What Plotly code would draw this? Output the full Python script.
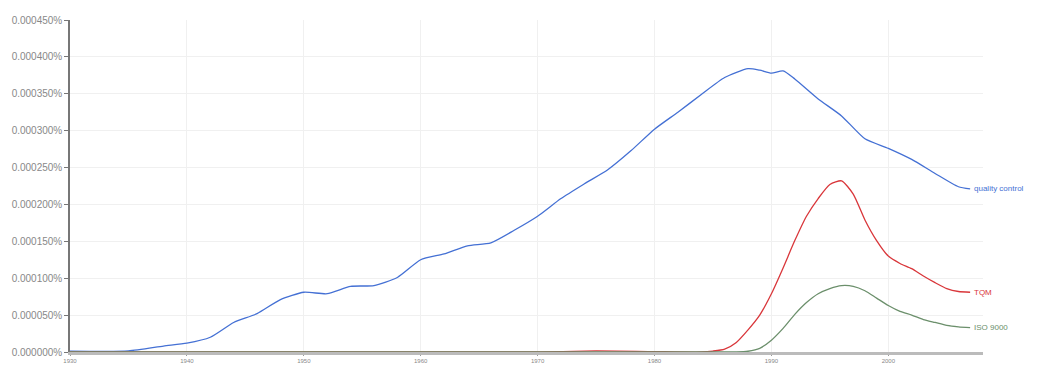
import plotly.graph_objects as go

# Years and values (percent of corpus)
qc_years = [1930, 1935, 1938, 1940, 1942, 1944, 1946, 1948, 1950, 1952, 1954, 1956, 1958,
            1960, 1962, 1964, 1966, 1968, 1970, 1972, 1974, 1976, 1978, 1980, 1982, 1984,
            1986, 1988, 1989, 1990, 1991, 1992, 1994, 1996, 1998, 2000, 2002, 2004, 2006, 2007]
qc_values = [0.0000013, 0.0000015, 0.0000081, 0.000012, 0.000020, 0.000040, 0.000052, 0.000071,
             0.000081, 0.000079, 0.000089, 0.000090, 0.000101, 0.000125, 0.000133, 0.000144,
             0.000148, 0.000165, 0.000184, 0.000208, 0.000228, 0.000247, 0.000273, 0.000302,
             0.000325, 0.000349, 0.000372, 0.000384, 0.000382, 0.000378, 0.000381, 0.000370,
             0.000343, 0.000320, 0.000289, 0.000276, 0.000261, 0.000242, 0.000224, 0.000221]

tqm_years = [1930, 1970, 1975, 1980, 1984, 1985, 1986, 1987, 1988, 1989, 1990, 1991, 1992,
             1993, 1994, 1995, 1996, 1997, 1998, 1999, 2000, 2001, 2002, 2003, 2004, 2005,
             2006, 2007]
tqm_values = [0.0, 0.0, 0.0000015, 0.0000005, 0.0, 0.0000013, 0.000004, 0.000013, 0.000030,
              0.000050, 0.000079, 0.000114, 0.000151, 0.000184, 0.000208, 0.000227, 0.000232,
              0.000214, 0.000179, 0.000151, 0.000130, 0.000120, 0.000113, 0.000103, 0.000094,
              0.000086, 0.000082, 0.000081]

iso_years = [1930, 1987, 1988, 1989, 1990, 1991, 1992, 1993, 1994, 1995, 1996, 1997, 1998,
             1999, 2000, 2001, 2002, 2003, 2004, 2005, 2006, 2007]
iso_values = [0.0, 0.0, 0.000001, 0.000005, 0.000016, 0.000032, 0.000051, 0.000067, 0.000079,
              0.000086, 0.000090, 0.000089, 0.000083, 0.000073, 0.000063, 0.000055, 0.000050,
              0.000044, 0.000040, 0.000036, 0.000034, 0.000033]

series_names = ["quality control", "TQM", "ISO 9000"]
series_colors = ["#4470d4", "#d9363a", "#6b8f6b"]

x_ticks = [1930, 1940, 1950, 1960, 1970, 1980, 1990, 2000]
y_ticks = [0.0, 0.00005, 0.0001, 0.00015, 0.0002, 0.00025, 0.0003, 0.00035, 0.0004, 0.00045]

fig = go.Figure()
all_series = [(qc_years, qc_values), (tqm_years, tqm_values), (iso_years, iso_values)]
for (xs, ys), name, col in zip(all_series, series_names, series_colors):
    fig.add_trace(go.Scatter(x=xs, y=ys, mode="lines", name=name,
                             line=dict(color=col, width=1.3, shape="spline", smoothing=0.6)))
    fig.add_annotation(x=xs[-1], y=ys[-1], text=name, showarrow=False, xanchor="left",
                       xshift=2, font=dict(size=8, color=col, family="Liberation Sans"))

# page body adds an 8px offset, so the figure is sized to fit the remaining window
fig.update_layout(
    width=1034, height=358,
    margin=dict(l=62, r=59, t=12, b=14),
    plot_bgcolor="white", paper_bgcolor="white",
    showlegend=False,
    font=dict(family="Liberation Sans", size=9, color="#888888"),
)
fig.update_xaxes(range=[1930, 2008.1], tickvals=x_ticks, ticktext=[str(t) for t in x_ticks],
                 automargin=False,
                 showgrid=True, gridcolor="#f0f0f0", gridwidth=1,
                 showline=True, linecolor="#bbbbbb", linewidth=3,
                 ticks="outside", ticklen=1, tickcolor="#999999",
                 tickfont=dict(size=6, color="#888888"), zeroline=False)
fig.update_yaxes(range=[0, 0.00045], tickvals=y_ticks,
                 ticktext=["%.6f%%" % v for v in y_ticks],
                 automargin=False,
                 showgrid=True, gridcolor="#f0f0f0", gridwidth=1,
                 showline=True, linecolor="#777777", linewidth=1.5,
                 ticks="outside", ticklen=4, tickcolor="#777777",
                 tickfont=dict(size=10, color="#888888"), zeroline=False)

fig.write_html("out.html")
